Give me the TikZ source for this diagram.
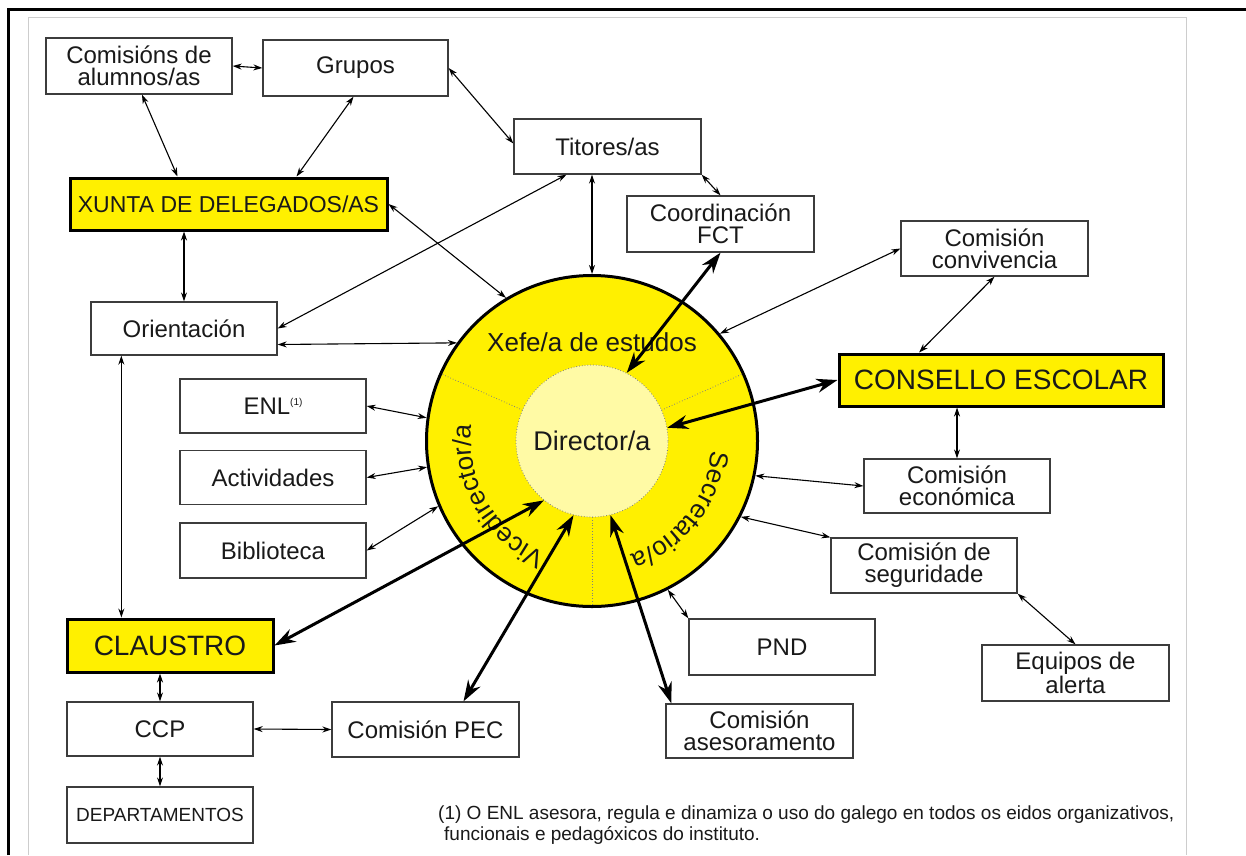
\documentclass[tikz,border=0pt]{standalone}
\usepackage{fontspec}
\setmainfont{Liberation Sans}
\usetikzlibrary{arrows.meta,calc,decorations.text}
\definecolor{yel}{RGB}{255,240,0}
\definecolor{lyel}{RGB}{255,250,165}
\definecolor{boxgray}{RGB}{60,60,60}
\definecolor{txt}{RGB}{25,25,25}
\definecolor{framegray}{RGB}{205,205,205}
\begin{document}
\begin{tikzpicture}[x=1pt,y=1pt,
 box/.style={draw=boxgray, line width=1.3pt, fill=white, minimum width=186pt, minimum height=55pt, inner sep=0pt, align=center, text=txt, font=\fontsize{24}{22}\selectfont},
 ybox/.style={box, draw=black, line width=3pt, fill=yel, minimum height=52pt},
 lnk/.style={draw=black, line width=1.1pt, >={Stealth[length=9pt,width=6pt]}, <->},
 blnk/.style={draw=black, line width=3pt, >={Stealth[length=21pt,width=14pt]}, <->},
 sepline/.style={draw=gray, line width=0.8pt, dotted}
]
\useasboundingbox (0,0) rectangle (1246,-855);
\fill[white] (0,0) rectangle (1246,-855);
% frames
\draw[framegray, line width=1pt] (28,-855) -- (28,-17) -- (1186,-17) -- (1186,-855);
\draw[black, line width=3pt] (8.5,-855) -- (8.5,-9.5) -- (1246,-9.5);

% boxes
\node[box, minimum height=56pt] (com) at (139,-66) {Comisións de\\alumnos/as};
\node[box, minimum width=185pt, minimum height=56pt] (grp) at (355.5,-68) {Grupos};
\node[box, minimum width=187pt] (tit) at (607.5,-146.5) {Titores/as};
\node[box, minimum width=187pt, minimum height=56pt] (fct) at (720.5,-224) {Coordinación\\FCT};
\node[box, minimum width=187pt] (conv) at (994.5,-248.5) {Comisión\\convivencia};
\node[ybox, minimum width=317pt, font=\fontsize{23}{23}\selectfont] (xunta) at (228.5,-204) {XUNTA DE DELEGADOS/AS};
\node[box, minimum height=53pt] (ori) at (184,-328.5) {Orientación};
\node[box, minimum height=54pt] (enl) at (273,-406) {ENL\raisebox{9pt}{\fontsize{10}{10}\selectfont(1)}};
\node[box, minimum height=54pt] (act) at (273,-477.5) {Actividades};
\node[box] (bib) at (273,-550.5) {Biblioteca};
\node[ybox, minimum width=324pt, font=\fontsize{28}{28}\selectfont] (cons) at (1001,-380) {CONSELLO ESCOLAR};
\node[box, minimum height=54pt] (eco) at (957,-486) {Comisión\\económica};
\node[box] (seg) at (924,-565.5) {Comisión de\\seguridade};
\node[box, minimum height=56pt] (pnd) at (782,-647) {PND};
\node[box, minimum width=187pt, minimum height=56pt] (equ) at (1075.5,-673) {Equipos de\\alerta};
\node[box, minimum width=187pt, minimum height=54pt] (ases) at (759.5,-731) {Comisión\\asesoramento};
\node[box, minimum width=187pt] (pec) at (425.5,-729.5) {Comisión PEC};
\node[box, minimum height=54pt] (ccp) at (160,-729) {CCP};
\node[box, minimum height=56pt, font=\fontsize{19}{19}\selectfont] (dep) at (160,-815) {DEPARTAMENTOS};
\node[ybox, minimum width=206pt, minimum height=53pt, font=\fontsize{28}{28}\selectfont] (cla) at (170,-645.5) {CLAUSTRO};

% central circle
\coordinate (c) at (592,-441);
\node[circle, draw=black, line width=3pt, fill=yel, minimum size=331pt, inner sep=0pt] (ring) at (c) {};
\foreach \a in {24,156,270} \draw[sepline] ($(c)+(\a:76)$) -- ($(c)+(\a:164)$);
\node[circle, draw=gray, dotted, line width=0.8pt, fill=lyel, minimum size=152pt, inner sep=0pt, font=\fontsize{27}{27}\selectfont, text=txt] (dir) at (c) {Director/a};
\node[font=\fontsize{26}{26}\selectfont, text=txt] (xefe) at (592,-342) {Xefe/a de estudos};
\path[decorate, decoration={text along path, text align=center, text={|\fontsize{26}{26}\selectfont\color{txt}|Secretario/a}}] ($(c)+(2:120)$) arc[start angle=2, end angle=-78, radius=120];
\path[decorate, decoration={text along path, text align=center, text={|\fontsize{26}{26}\selectfont\color{txt}|Vicedirector/a}}] ($(c)+(252:121)$) arc[start angle=252, end angle=168, radius=121];

% thin connectors
\coordinate (oc) at ([xshift=31pt]ori.south west);
\draw[lnk] (com.east) -- (grp.west);
\draw[lnk] ([xshift=3pt]com.south) -- ([xshift=-51pt]xunta.north);
\draw[lnk] ([xshift=-2pt]grp.south) -- ([xshift=68pt]xunta.north);
\draw[lnk] (grp.east) -- ([yshift=3pt]tit.west);
\draw[lnk] (xunta.east) -- (ring.121);
\draw[lnk] (xunta.south -| ori.north) -- (ori.north);
\draw[lnk] (ori.east) -- ([xshift=-41pt]tit.south);
\draw[lnk] ([yshift=-16pt]ori.east) -- (ring.144);
\draw[lnk] (ring.north) -- (ring.north |- tit.south);
\draw[lnk] (tit.south east) -- (fct.north);
\draw[lnk] (oc) -- (oc |- cla.north);
\draw[lnk] (enl.east) -- (ring.172);
\draw[lnk] (act.east) -- (ring.189);
\draw[lnk] (bib.east) -- (ring.203);
\draw[lnk] (conv.west) -- (ring.40);
\draw[lnk] (conv.south) -- ([xshift=-82pt]cons.north);
\draw[lnk] (eco.north |- cons.south) -- (eco.north);
\draw[lnk] (eco.west) -- (ring.348);
\draw[lnk] (seg.north west) -- (ring.333);
\draw[lnk] (seg.south east) -- (equ.north);
\draw[lnk] (pnd.north west) -- (ring.297);
\draw[lnk] (ccp.north |- cla.south) -- (ccp.north);
\draw[lnk] (ccp.south) -- (dep.north);
\draw[lnk] (ccp.east) -- (pec.west);

% thick connectors
\draw[blnk] (fct.south) -- (dir.63);
\draw[blnk] (cons.west) -- (dir.10);
\draw[blnk] (cla.east) -- (dir.231);
\draw[blnk] ([xshift=38pt]pec.north) -- (dir.256);
\draw[blnk] ([xshift=6pt]ases.north west) -- (dir.284);

% footnote
\node[anchor=north west, align=left, inner sep=0pt, text=txt, font=\fontsize{19}{21}\selectfont] (fn) at (438,-806) {(1) O ENL asesora, regula e dinamiza o uso do galego en todos os eidos organizativos,\\\hspace*{6pt}funcionais e pedagóxicos do instituto.};
\end{tikzpicture}
\end{document}
